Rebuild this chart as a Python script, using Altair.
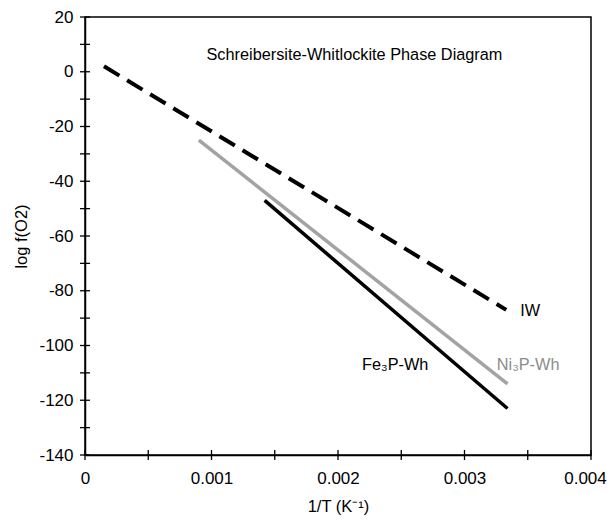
import altair as alt
import pandas as pd

# Line data (1/T, log fO2)
iw_x = [0.00015, 0.00333]
iw_y = [2, -87]
ni_x = [0.0009, 0.00334]
ni_y = [-25, -114]
fe_x = [0.00142, 0.00334]
fe_y = [-47, -123]

x_labels = [0, 0.001, 0.002, 0.003, 0.004]
x_ticks = [0, 0.0005, 0.001, 0.0015, 0.002, 0.0025, 0.003, 0.0035, 0.004]
y_labels = [20, 0, -20, -40, -60, -80, -100, -120, -140]
y_ticks = [20, 10, 0, -10, -20, -30, -40, -50, -60, -70, -80, -90, -100, -110, -120, -130, -140]

FONT = "Liberation Sans"

xs = alt.Scale(domain=[0, 0.004], nice=False, zero=False)
ys = alt.Scale(domain=[-140, 20], nice=False, zero=False)

def line_df(xv, yv):
    return pd.DataFrame({"x": xv, "y": yv})

base_x = alt.X("x:Q", scale=xs,
               axis=alt.Axis(values=x_labels, format="~g", ticks=False, grid=False,
                             title="1/T (K⁻¹)", labelPadding=15, titlePadding=12,
                             labelOffset={"condition": {"test": "datum.value >= 0.0039", "value": -6}, "value": 0},
                             labelFontSize=17, titleFontSize=16.5, labelFont=FONT, titleFont=FONT,
                             labelColor="black", titleColor="black", domainColor="black",
                             domainWidth=1.5, titleFontWeight="normal", labelFlush=False))
base_y = alt.Y("y:Q", scale=ys,
               axis=alt.Axis(values=y_labels, ticks=False, grid=False, title="log f(O2)",
                             labelExpr="replace(datum.label, '\u2212', '-')",
                             labelPadding=12, titlePadding=9,
                             labelFontSize=17, titleFontSize=16.5, labelFont=FONT, titleFont=FONT,
                             labelColor="black", titleColor="black", domainColor="black",
                             domainWidth=1.5, titleFontWeight="normal", labelFlush=False))

iw = alt.Chart(line_df(iw_x, iw_y)).mark_line(
    color="black", strokeWidth=4, strokeDash=[18, 9]).encode(x=base_x, y=base_y)
ni = alt.Chart(line_df(ni_x, ni_y)).mark_line(
    color="#a3a3a3", strokeWidth=3.5).encode(x="x:Q", y="y:Q")
fe = alt.Chart(line_df(fe_x, fe_y)).mark_line(
    color="black", strokeWidth=3.5).encode(x="x:Q", y="y:Q")

ytick_layer = alt.Chart(pd.DataFrame({"y": y_ticks})).mark_rule(
    color="black", strokeWidth=1.3).encode(y="y:Q", x=alt.value(-5), x2=alt.value(5))
xtick_layer = alt.Chart(pd.DataFrame({"x": x_ticks})).mark_rule(
    color="black", strokeWidth=1.3).encode(x="x:Q", y=alt.value(433), y2=alt.value(443))

title_txt = alt.Chart(pd.DataFrame({"x": [0.00213], "y": [6], "t": ["Schreibersite-Whitlockite Phase Diagram"]})).mark_text(
    font=FONT, fontSize=16.3, color="black", align="center", baseline="middle").encode(
    x="x:Q", y="y:Q", text="t:N")

labels_df = pd.DataFrame({
    "x": [0.00344, 0.00219, 0.003255],
    "y": [-87.4, -107, -107],
    "t": ["IW", "Fe₃P-Wh", "Ni₃P-Wh"],
    "c": ["black", "black", "#8c8c8c"],
})
lab = alt.Chart(labels_df).mark_text(
    font=FONT, fontSize=16.3, align="left", baseline="middle").encode(
    x="x:Q", y="y:Q", text="t:N", color=alt.Color("c:N", scale=None))

chart = alt.layer(iw, ni, fe, ytick_layer, xtick_layer, title_txt, lab).properties(
    width=506, height=438,
    autosize=alt.AutoSizeParams(type="none"),
    padding={"left": 77, "top": 9, "right": 16, "bottom": 62},
    background="white",
).configure_view(stroke="black", strokeWidth=1.5)

chart.save("out.html", embed_options={"renderer": "svg", "actions": False})
